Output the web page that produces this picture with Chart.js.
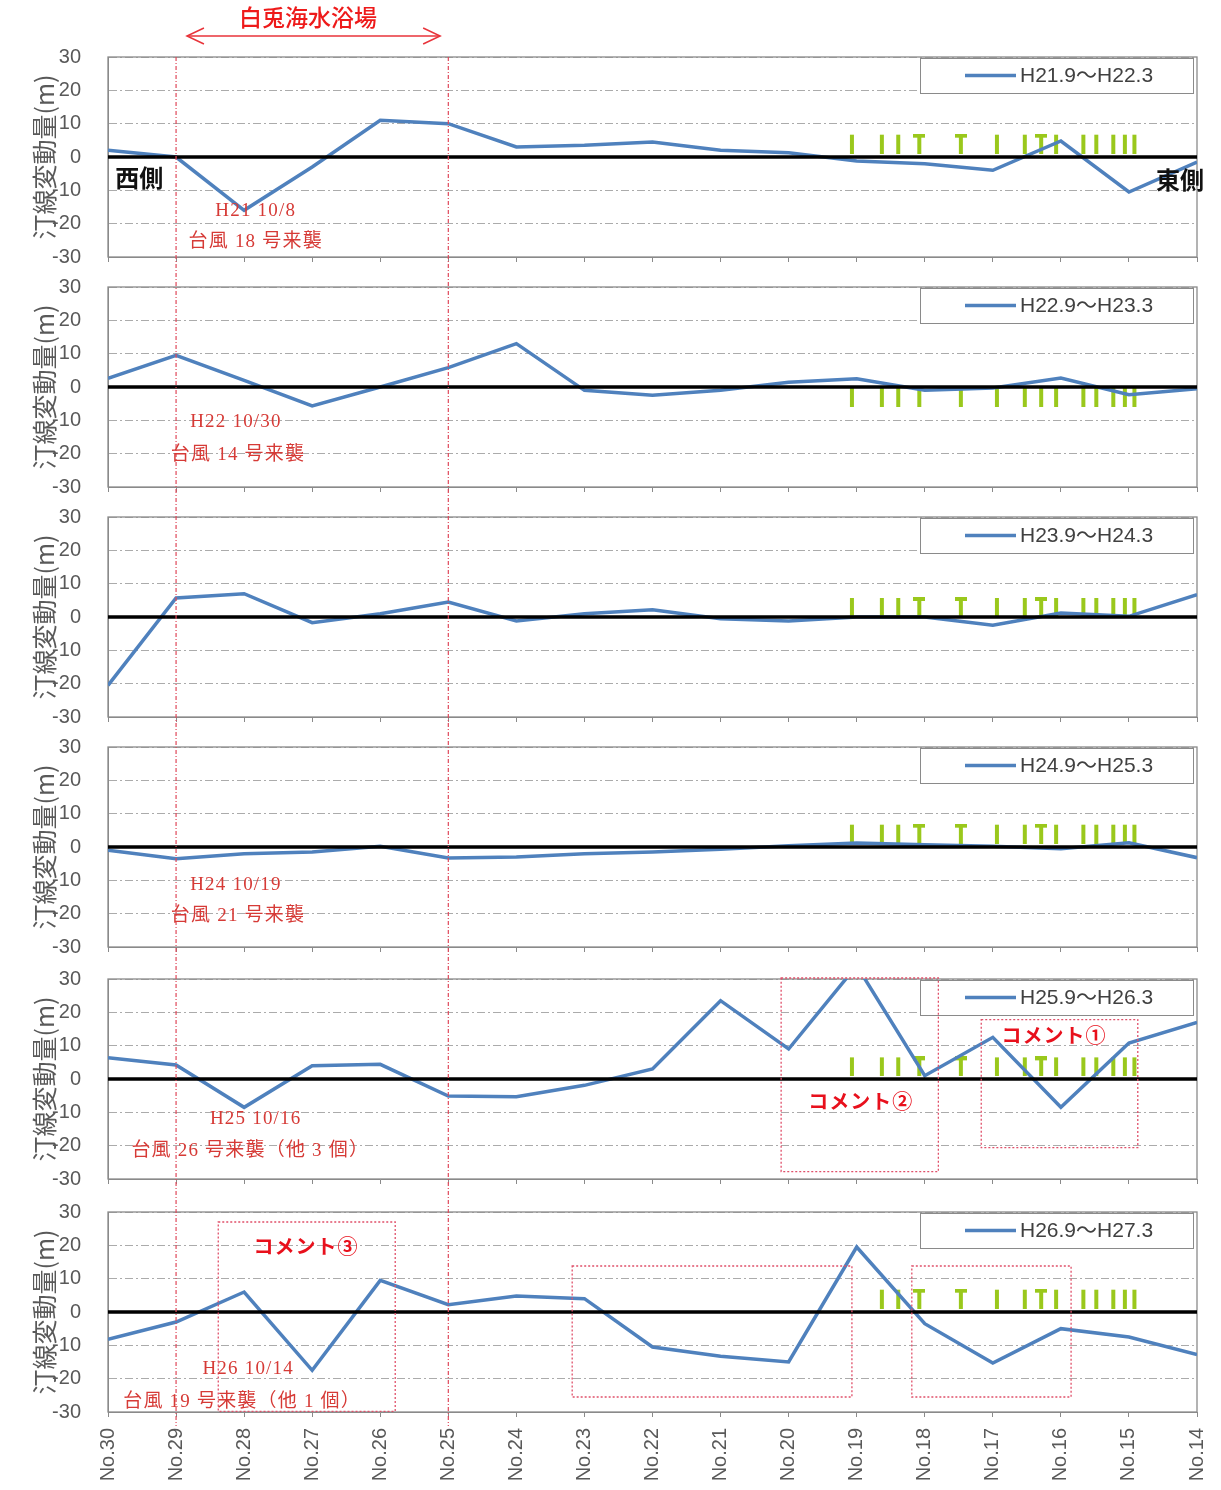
<!DOCTYPE html>
<html><head><meta charset="utf-8">
<script src="https://cdn.jsdelivr.net/npm/chart.js@4.4.1/dist/chart.umd.min.js"></script>
<style>
html,body{margin:0;padding:0;background:#fff;}
#wrap{position:relative;width:1221px;height:1490px;overflow:hidden;}
.pane{position:absolute;left:0;}
canvas{display:block;}
#overlay{position:absolute;left:0;top:0;width:1221px;height:1490px;pointer-events:none;}
#overlay svg{position:absolute;left:0;top:0;}
.lbl{position:absolute;white-space:nowrap;transform:translate(-50%,-50%);line-height:1;}
.typh{color:#d63a36;font-family:"Liberation Serif","Noto Sans CJK JP",serif;font-size:19px;letter-spacing:1.2px;}
.cmt{color:#e8101c;font-family:"Noto Sans CJK JP",sans-serif;font-size:20px;font-weight:bold;letter-spacing:1px;}
.side{color:#111;font-family:"Noto Sans CJK JP",sans-serif;font-size:24px;font-weight:bold;}
.beach{color:#ee1a1a;font-family:"Noto Sans CJK JP",sans-serif;font-size:23px;font-weight:500;}
</style></head><body>
<div id="wrap"><div id="overlay"><svg id="svg" width="1221" height="1490"></svg></div></div>
<script>
// ---------- data ----------
const categories = ['No.30','No.29','No.28','No.27','No.26','No.25','No.24','No.23','No.22','No.21','No.20','No.19','No.18','No.17','No.16','No.15','No.14'];
const periods = ['H21.9～H22.3','H22.9～H23.3','H23.9～H24.3','H24.9～H25.3','H25.9～H26.3','H26.9～H27.3'];
const shoreH21 = [2, 0, -16, -3, 11, 10, 3, 3.5, 4.5, 2, 1.3, -1.2, -2, -4, 4.8, -10.5, -1.5];
const shoreH22 = [2.6, 9.5, 2, -5.7, 0, 5.8, 13, -1, -2.5, -1, 1.4, 2.5, -1, -0.3, 2.7, -2.3, -0.5];
const shoreH23 = [-20.5, 5.7, 7, -1.7, 1, 4.5, -1.2, 1, 2.2, -0.5, -1.2, 0, 0, -2.5, 1.2, 0.2, 6.7];
const shoreH24 = [-1, -3.5, -2, -1.5, 0.2, -3.3, -3, -2, -1.5, -0.7, 0.4, 1.2, 0.7, 0.2, -0.5, 1.3, -3.2];
const shoreH25 = [6.4, 4.2, -8.5, 4, 4.4, -5.1, -5.3, -1.9, 3, 23.5, 9, 34, 1, 12.5, -8.5, 10.8, 17];
const shoreH26 = [-8.2, -3, 6, -17.5, 9.5, 2.2, 4.8, 4, -10.5, -13.3, -15, 19.5, -3.5, -15.3, -5, -7.5, -12.8];
const baseLine = [0, 0, 0, 0, 0, 0, 0, 0, 0, 0, 0, 0, 0, 0, 0, 0, 0];
const yTicks = [-30, -20, -10, 0, 10, 20, 30];
// structures (groins etc.) along the shore, position in survey-line index units from No.30
const structurePos  = [10.93, 11.37, 11.61, 11.92, 12.53, 13.06, 13.47, 13.71, 13.93, 14.33, 14.52, 14.77, 14.94, 15.08];
const structureKind = ['I','I','I','T','T','I','I','T','I','I','I','I','I','I'];
const structureLevel = [4, -3, 3, 4, 3.8, 4];
const structureFirst = [0, 0, 0, 0, 0, 1];
const seriesList = [shoreH21, shoreH22, shoreH23, shoreH24, shoreH25, shoreH26];

// ---------- annotations ----------
const textNotes = [
  {p:0, t:'H21 10/8', x:2.17, y:-15.6, c:'typh'},
  {p:0, t:'台風 18 号来襲', x:2.17, y:-24.9, c:'typh'},
  {p:1, t:'H22 10/30', x:1.88, y:-9.9, c:'typh'},
  {p:1, t:'台風 14 号来襲', x:1.91, y:-19.8, c:'typh'},
  {p:3, t:'H24 10/19', x:1.88, y:-10.8, c:'typh'},
  {p:3, t:'台風 21 号来襲', x:1.91, y:-20.1, c:'typh'},
  {p:4, t:'H25 10/16', x:2.17, y:-11.5, c:'typh'},
  {p:4, t:'台風 26 号来襲（他 3 個）', x:2.09, y:-21, c:'typh'},
  {p:5, t:'H26 10/14', x:2.06, y:-16.5, c:'typh'},
  {p:5, t:'台風 19 号来襲（他 1 個）', x:1.97, y:-26.4, c:'typh'},
  {p:4, t:'コメント②', x:11.06, y:-6.5, c:'cmt'},
  {p:4, t:'コメント①', x:13.9, y:13.3, c:'cmt'},
  {p:5, t:'コメント③', x:2.91, y:19.8, c:'cmt'},
  {p:0, t:'西側', x:0.46, y:-6.1, c:'side'},
  {p:0, t:'東側', x:15.75, y:-6.7, c:'side'},
  {p:0, t:'白兎海水浴場', x:2.94, y:42.4, c:'beach'}
];
const boxNotes = [
  {p:4, x1:9.89, x2:12.2, y1:30.3, y2:-27.8},
  {p:4, x1:12.83, x2:15.13, y1:17.8, y2:-20.6},
  {p:5, x1:1.62, x2:4.22, y1:27, y2:-29.8},
  {p:5, x1:6.82, x2:10.93, y1:13.8, y2:-25.5},
  {p:5, x1:11.81, x2:14.15, y1:13.8, y2:-25.5}
];
const beachRange = [1.16, 4.88];   // arrow span (index units)
const beachArrowY = 36.3;
const dividerIdx = [1, 5];          // No.29, No.25

// ---------- rendering ----------
Chart.defaults.font.family = '"Liberation Sans","Noto Sans CJK JP",sans-serif';
const canvasTops = [37, 267, 497, 727, 959, 1192];
const CW = 1240;

function makeMark(kind){
  const c = document.createElement('canvas');
  c.width = 12; c.height = 20;
  const g = c.getContext('2d');
  g.fillStyle = '#9ac81c';
  if (kind === 'T') { g.fillRect(0, 0, 12, 4); g.fillRect(4, 0, 4, 20); }
  else { g.fillRect(4, 1, 4, 19); }
  return c;
}
const markImg = {I: makeMark('I'), T: makeMark('T')};

const framePlugin = {
  id: 'frame',
  beforeDatasetsDraw(chart){
    const {ctx, chartArea: a} = chart;
    ctx.save();
    ctx.strokeStyle = '#8a8a8a'; ctx.lineWidth = 1.3;
    ctx.strokeRect(a.left, a.top, a.right - a.left, a.bottom - a.top);
    ctx.restore();
  }
};
const legendPlugin = {
  id: 'panelLegend',
  afterDatasetsDraw(chart){
    const {ctx, chartArea: a} = chart;
    const ds = chart.data.datasets[0];
    const x = Math.round(a.right - 277), y = Math.round(a.top + 1), w = 273, h = 35;
    ctx.save();
    ctx.fillStyle = '#fff'; ctx.fillRect(x, y, w, h);
    ctx.strokeStyle = '#8a8a8a'; ctx.lineWidth = 1;
    ctx.strokeRect(x + 0.5, y + 0.5, w, h);
    ctx.strokeStyle = ds.borderColor; ctx.lineWidth = ds.borderWidth;
    ctx.beginPath(); ctx.moveTo(x + 45, y + h / 2); ctx.lineTo(x + 96, y + h / 2); ctx.stroke();
    ctx.fillStyle = '#404040';
    ctx.font = '21px "Liberation Sans","Noto Sans CJK JP",sans-serif';
    ctx.textBaseline = 'middle'; ctx.textAlign = 'left';
    ctx.fillText(ds.label, x + 100, y + h / 2 + 1);
    ctx.restore();
  }
};

const wrap = document.getElementById('wrap');
const overlay = document.getElementById('overlay');
const charts = [];
seriesList.forEach((vals, i) => {
  const isLast = i === seriesList.length - 1;
  const H = isLast ? 298 : 240;
  const div = document.createElement('div');
  div.className = 'pane'; div.style.top = canvasTops[i] + 'px';
  const cv = document.createElement('canvas');
  cv.width = CW; cv.height = H; cv.style.width = CW + 'px'; cv.style.height = H + 'px';
  div.appendChild(cv);
  wrap.insertBefore(div, overlay);
  const marks = [], styles = [];
  structurePos.forEach((p, k) => {
    if (k < structureFirst[i]) return;
    marks.push({x: p, y: structureLevel[i]});
    styles.push(markImg[i === 1 ? 'I' : structureKind[k]]);
  });
  const ch = new Chart(cv, {
    type: 'line',
    data: {
      datasets: [
        {label: periods[i], data: vals.map((v, k) => ({x: k, y: v})), borderColor: '#4f81bd', borderWidth: 3.5, pointRadius: 0, tension: 0, order: 1},
        {label: '基準', data: baseLine.map((v, k) => ({x: k, y: v})), borderColor: '#000', borderWidth: 3.5, pointRadius: 0, tension: 0, order: 0},
        {label: '構造物', data: marks, showLine: false, pointStyle: styles, pointRadius: 6, order: 2}
      ]
    },
    options: {
      responsive: false, animation: false, events: [],
      layout: {padding: {top: 20, right: CW - 1197, left: 0, bottom: 0}},
      plugins: {legend: {display: false}, tooltip: {enabled: false}},
      scales: {
        x: {
          type: 'linear', min: 0, max: categories.length - 1,
          afterFit: s => { s.height = H - 220; },
          afterBuildTicks: s => { s.ticks = categories.map((c, k) => ({value: k})); },
          ticks: {display: isLast, autoSkip: false, minRotation: 90, maxRotation: 90, padding: 11,
                  callback: v => categories[v], font: {size: 20}, color: '#595959'},
          grid: {drawOnChartArea: false, drawTicks: true, tickLength: 5, color: '#8a8a8a'},
          border: {color: '#8a8a8a', width: 1}
        },
        y: {
          min: -30, max: 30,
          afterFit: s => { s.width = 108; },
          afterBuildTicks: s => { s.ticks = yTicks.map(v => ({value: v})); },
          ticks: {font: {size: 20}, color: '#595959', padding: 2},
          grid: {color: '#ababab', drawTicks: true, tickLength: 25, tickColor: 'rgba(0,0,0,0)', lineWidth: 1},
          border: {display: true, color: '#8a8a8a', dash: [8, 3, 2, 3]},
          title: {display: true, text: '汀線変動量(m)', color: '#595959',
                  font: {size: 25, family: '"Noto Sans CJK JP",sans-serif'}, padding: {top: 29, bottom: 0}}
        }
      }
    },
    plugins: [framePlugin, legendPlugin]
  });
  charts.push(ch);
});

// ---------- overlay annotations ----------
const svg = document.getElementById('svg');
const NS = 'http://www.w3.org/2000/svg';
function px(p, v){ return charts[p].scales.x.getPixelForValue(v); }
function py(p, v){ return canvasTops[p] + charts[p].scales.y.getPixelForValue(v); }
function el(name, attrs){ const e = document.createElementNS(NS, name); for (const k in attrs) e.setAttribute(k, attrs[k]); svg.appendChild(e); return e; }

const last = charts.length - 1;
dividerIdx.forEach(ix => {
  const x = px(0, ix);
  el('line', {x1: x, x2: x, y1: py(0, 30), y2: py(last, -30) + 14, stroke: '#e0485a', 'stroke-width': 1.2, 'stroke-dasharray': '4 2 1 2'});
});
boxNotes.forEach(b => {
  const x1 = px(b.p, b.x1), x2 = px(b.p, b.x2), y1 = py(b.p, b.y1), y2 = py(b.p, b.y2);
  el('rect', {x: x1, y: y1, width: x2 - x1, height: y2 - y1, fill: 'none', stroke: '#e0506a', 'stroke-width': 1.3, 'stroke-dasharray': '2 2'});
});
{
  const xa = px(0, beachRange[0]), xb = px(0, beachRange[1]), ya = py(0, beachArrowY);
  el('line', {x1: xa, x2: xb, y1: ya, y2: ya, stroke: '#e8333a', 'stroke-width': 1.5});
  el('polyline', {points: `${xa+17},${ya-8} ${xa},${ya} ${xa+17},${ya+8}`, fill: 'none', stroke: '#e8333a', 'stroke-width': 1.5});
  el('polyline', {points: `${xb-17},${ya-8} ${xb},${ya} ${xb-17},${ya+8}`, fill: 'none', stroke: '#e8333a', 'stroke-width': 1.5});
}
textNotes.forEach(n => {
  const d = document.createElement('div');
  d.className = 'lbl ' + n.c;
  d.textContent = n.t;
  d.style.left = px(n.p, n.x) + 'px';
  d.style.top = py(n.p, n.y) + 'px';
  overlay.appendChild(d);
});
</script>
</body></html>
